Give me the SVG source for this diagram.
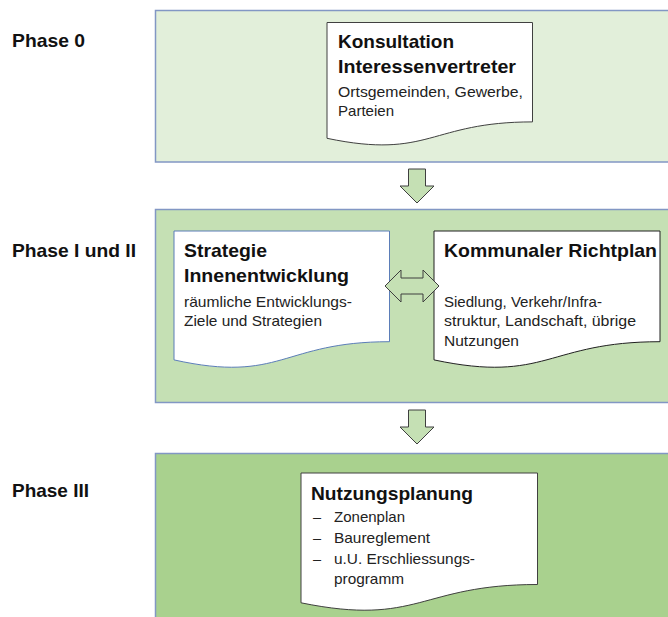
<svg xmlns="http://www.w3.org/2000/svg" width="668" height="617" viewBox="0 0 668 617">
<style>
.phase{stroke:#8297C4;stroke-width:1.5}
.doc{fill:#ffffff;stroke:#404040;stroke-width:1}
.t{font-family:"Liberation Sans","Arial",sans-serif;font-weight:bold;font-size:18.5px;fill:#111}
.b{font-family:"Liberation Sans","Arial",sans-serif;font-size:14.5px;fill:#222}
.arr{fill:#C5E0B4;stroke:#3F3F3F;stroke-width:1}
</style>
<rect width="668" height="617" fill="#ffffff"/>
<g id="phase0">
<rect class="phase" x="155.5" y="10.5" width="530" height="151.5" fill="#E2EFDA"/>
<text class="t" x="12" y="47" textLength="73" lengthAdjust="spacingAndGlyphs">Phase 0</text>
</g>
<g id="phase12">
<rect class="phase" x="155.5" y="209.5" width="530" height="193" fill="#C5E0B4"/>
<text class="t" x="12" y="257" textLength="124" lengthAdjust="spacingAndGlyphs">Phase I und II</text>
</g>
<g id="phase3">
<rect class="phase" x="155.5" y="453.5" width="530" height="180" fill="#A9D18E"/>
<text class="t" x="12" y="497" textLength="77" lengthAdjust="spacingAndGlyphs">Phase III</text>
</g>
<g id="konsultation">
<path class="doc" d="M327,22.5 H532.5 V121.9 C429.75,121.9 429.75,159.8 327,138.3 Z"/>
<text class="t" x="338" y="48" textLength="116" lengthAdjust="spacingAndGlyphs">Konsultation</text>
<text class="t" x="338" y="73" textLength="178" lengthAdjust="spacingAndGlyphs">Interessenvertreter</text>
<text class="b" x="338" y="97" textLength="185" lengthAdjust="spacingAndGlyphs">Ortsgemeinden, Gewerbe,</text>
<text class="b" x="338" y="116" textLength="56" lengthAdjust="spacingAndGlyphs">Parteien</text>
</g>
<g id="strategie">
<path class="doc" style="stroke:#5B7DB8" d="M174,231 H389.5 V341.7 C281.75,341.7 281.75,383.8 174,359.9 Z"/>
<text class="t" x="184" y="257" textLength="83" lengthAdjust="spacingAndGlyphs">Strategie</text>
<text class="t" x="184" y="282" textLength="165" lengthAdjust="spacingAndGlyphs">Innenentwicklung</text>
<text class="b" x="184" y="307" textLength="168" lengthAdjust="spacingAndGlyphs">räumliche Entwicklungs-</text>
<text class="b" x="184" y="326" textLength="138" lengthAdjust="spacingAndGlyphs">Ziele und Strategien</text>
</g>
<g id="richtplan">
<path class="doc" style="stroke:#202020" d="M434,231 H660 V341.7 C547,341.7 547,383.8 434,359.9 Z"/>
<text class="t" x="444" y="257" textLength="213" lengthAdjust="spacingAndGlyphs">Kommunaler Richtplan</text>
<text class="b" x="444" y="307" textLength="158" lengthAdjust="spacingAndGlyphs">Siedlung, Verkehr/Infra-</text>
<text class="b" x="444" y="326" textLength="192" lengthAdjust="spacingAndGlyphs">struktur, Landschaft, übrige</text>
<text class="b" x="444" y="346" textLength="75" lengthAdjust="spacingAndGlyphs">Nutzungen</text>
</g>
<g id="nutzungsplanung">
<path class="doc" d="M301,473 H537.5 V584.5 C419.25,584.5 419.25,626.9 301,602.8 Z"/>
<text class="t" x="311" y="500" textLength="162" lengthAdjust="spacingAndGlyphs">Nutzungsplanung</text>
<text class="b" x="313" y="522">–</text>
<text class="b" x="334" y="522" textLength="71" lengthAdjust="spacingAndGlyphs">Zonenplan</text>
<text class="b" x="313" y="543">–</text>
<text class="b" x="334" y="543" textLength="96" lengthAdjust="spacingAndGlyphs">Baureglement</text>
<text class="b" x="313" y="564">–</text>
<text class="b" x="334" y="564" textLength="141" lengthAdjust="spacingAndGlyphs">u.U. Erschliessungs-</text>
<text class="b" x="334" y="584" textLength="70" lengthAdjust="spacingAndGlyphs">programm</text>
</g>
<g id="connectors">
<path class="arr" d="M408.5,169 H425.5 V186 H434 L417,203 L400,186 H408.5 Z"/>
<path class="arr" d="M385,286 L401,270 V278 H423 V270 L439,286 L423,302 V294 H401 V302 Z"/>
<path class="arr" d="M408.5,410 H425.5 V427 H434 L417,444 L400,427 H408.5 Z"/>
</g>
</svg>
